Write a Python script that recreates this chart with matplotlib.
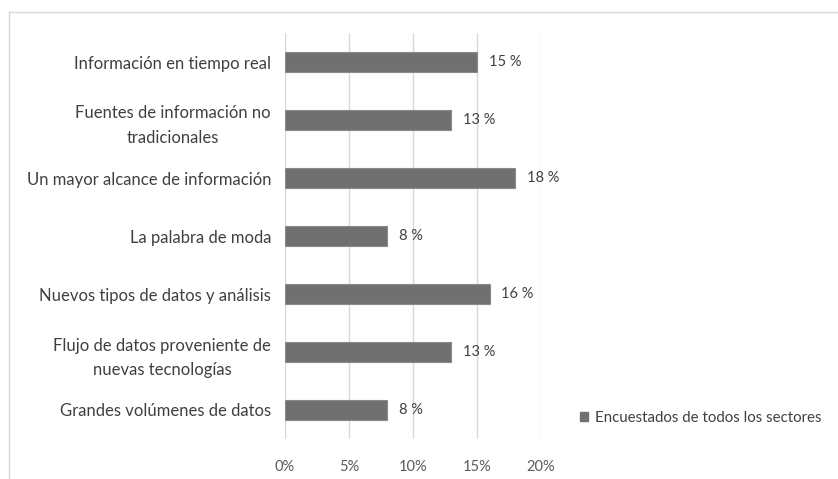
import matplotlib.pyplot as plt
from matplotlib.lines import Line2D
from matplotlib.patches import Patch

categories = [
    "Grandes volúmenes de datos",
    "Flujo de datos proveniente de\nnuevas tecnologías",
    "Nuevos tipos de datos y análisis",
    "La palabra de moda",
    "Un mayor alcance de información",
    "Fuentes de información no\ntradicionales",
    "Información en tiempo real",
]
values = [8, 13, 16, 8, 18, 13, 15]
xticks = [0, 5, 10, 15, 20]
series_name = "Encuestados de todos los sectores"

plt.rcParams["font.family"] = ["Lato", "DejaVu Sans"]

W, H = 838, 479
fig = plt.figure(figsize=(W / 100, H / 100), dpi=100)
ax = fig.add_axes([285 / W, 1 - 439 / H, (541 - 285) / W, (439 - 33) / H])

bar_color = "#707070"
ypos = range(len(categories))
ax.barh(ypos, values, height=0.35, color=bar_color, edgecolor="#8a8a8a", linewidth=0.8, zorder=3)

for y, v in zip(ypos, values):
    ax.text(v + 0.9, y, f"{v} %", va="center", ha="left", fontsize=10.5, color="#404040")

ax.set_xlim(0, 20)
ax.set_ylim(-0.5, len(categories) - 0.5)
ax.set_xticks(xticks)
ax.set_xticklabels([f"{t}%" for t in xticks], fontsize=10.5, color="#595959")
ax.set_yticks(list(ypos))
ax.set_yticklabels(categories, fontsize=12, color="#404040", multialignment="center", linespacing=1.65)
ax.tick_params(axis="x", length=0, pad=15)
ax.tick_params(axis="y", length=0, pad=10)
ax.xaxis.grid(True, color="#d9d9d9", linewidth=1, zorder=0)
for s in ax.spines.values():
    s.set_visible(False)

leg = fig.legend(handles=[Patch(facecolor=bar_color, edgecolor=bar_color, label=series_name)],
                 loc="center left", bbox_to_anchor=(566 / W, 1 - 418 / H), frameon=False,
                 fontsize=10.8, handlelength=0.55, handleheight=0.55, handletextpad=0.5)
for t in leg.get_texts():
    t.set_color("#404040")

# outer chart frame (only left and top edges visible)
fig.add_artist(Line2D([8.5 / W, 8.5 / W], [0, 1 - 11.5 / H], transform=fig.transFigure, color="#d9d9d9", linewidth=1))
fig.add_artist(Line2D([8.5 / W, 1], [1 - 11.5 / H, 1 - 11.5 / H], transform=fig.transFigure, color="#d9d9d9", linewidth=1))

fig.savefig("out.png", dpi=100)
